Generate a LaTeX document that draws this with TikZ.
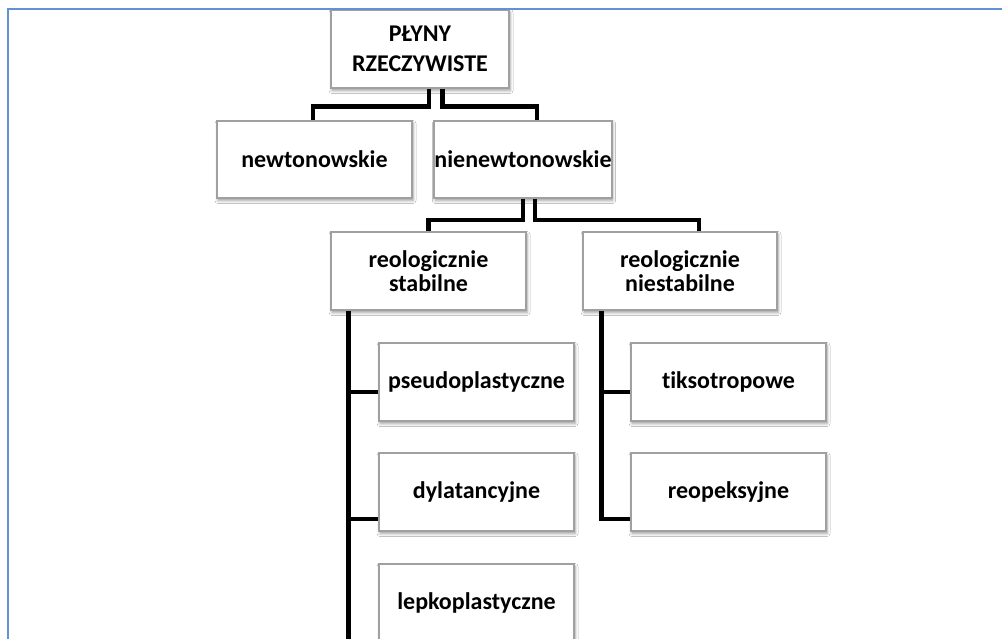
\documentclass[tikz,border=0pt]{standalone}
\usepackage{fontspec}
\setmainfont{Carlito}[Ligatures={NoCommon}]
\usetikzlibrary{shadows.blur}
\definecolor{framebl}{RGB}{98,145,212}
\definecolor{boxgray}{RGB}{160,160,160}
\tikzset{
  box/.style={draw=boxgray, line width=1.2pt, fill=white, rectangle,
    minimum width=195pt, minimum height=78pt, inner sep=0pt, align=center,
    font=\bfseries\fontsize{24}{24.5}\selectfont,
    blur shadow={shadow xshift=1pt, shadow yshift=-2.5pt, shadow blur radius=3pt, shadow opacity=40}},
  conn/.style={draw=black, line width=4.3pt, line join=miter},
  frameline/.style={draw=framebl, line width=2pt}
}
\begin{document}
\begin{tikzpicture}[x=1pt, y=-1pt]
\useasboundingbox (0,0) rectangle (1002,639);
\clip (0,0) rectangle (1002,639);
\fill[white] (0,0) rectangle (1002,639);

\node[box, minimum width=178pt, font=\bfseries\fontsize{24}{29.5}\selectfont] (root) at (420,49) {PŁYNY\\RZECZYWISTE};
\node[box, minimum height=77pt] (newt) at (314.5,159.5) {newtonowskie};
\node[box, minimum width=170pt, minimum height=77pt] (nienewt) at (523,159.5) {nienewtonowskie};
\node[box] (stab) at (428.5,271) {reologicznie\\stabilne};
\node[box, minimum width=194pt] (niestab) at (680,271) {reologicznie\\niestabilne};
\node[box] (pseudo) at (476.5,382) {pseudoplastyczne};
\node[box] (dyl) at (476.5,492) {dylatancyjne};
\node[box] (lepko) at (476.5,603) {lepkoplastyczne};
\node[box] (tikso) at (728.5,382) {tiksotropowe};
\node[box] (reop) at (728.5,492) {reopeksyjne};

% level 1
\draw[conn] ([xshift=9pt]root.south) -- ++(0,18) -| ([xshift=-1.5pt]newt.north);
\draw[conn] ([xshift=22.5pt]root.south) -- ++(0,18) -| ([xshift=14pt]nienewt.north);
% level 2
\draw[conn] (nienewt.south) -- ++(0,21.5) -| (stab.north);
\draw[conn] ([xshift=12pt]nienewt.south) -- ++(0,21.5) -| ([xshift=19pt]niestab.north);
% stabilne branch
\coordinate (vS) at ([xshift=18pt]stab.south west);
\coordinate (bot) at ([yshift=-40pt]vS |- lepko.south);
\draw[conn] (vS) -- (bot);
\draw[conn] ([yshift=-10pt]pseudo.west) -- ([yshift=-10pt]pseudo.west -| vS);
\draw[conn] ([yshift=-27pt]dyl.west) -- ([yshift=-27pt]dyl.west -| vS);
% niestabilne branch
\coordinate (vN) at ([xshift=19pt]niestab.south west);
\draw[conn] (vN) |- ([yshift=-27pt]reop.west);
\draw[conn] ([yshift=-10pt]tikso.west) -- ([yshift=-10pt]tikso.west -| vN);

% redraw box borders over connector ends
\foreach \n in {root,newt,nienewt,stab,niestab,pseudo,dyl,lepko,tikso,reop}{
  \draw[boxgray, line width=1.2pt] (\n.north west) rectangle (\n.south east);
}

% frame
\draw[frameline] (7.5,650) -- (7.5,9.5) -- (1010,9.5);
\end{tikzpicture}
\end{document}
